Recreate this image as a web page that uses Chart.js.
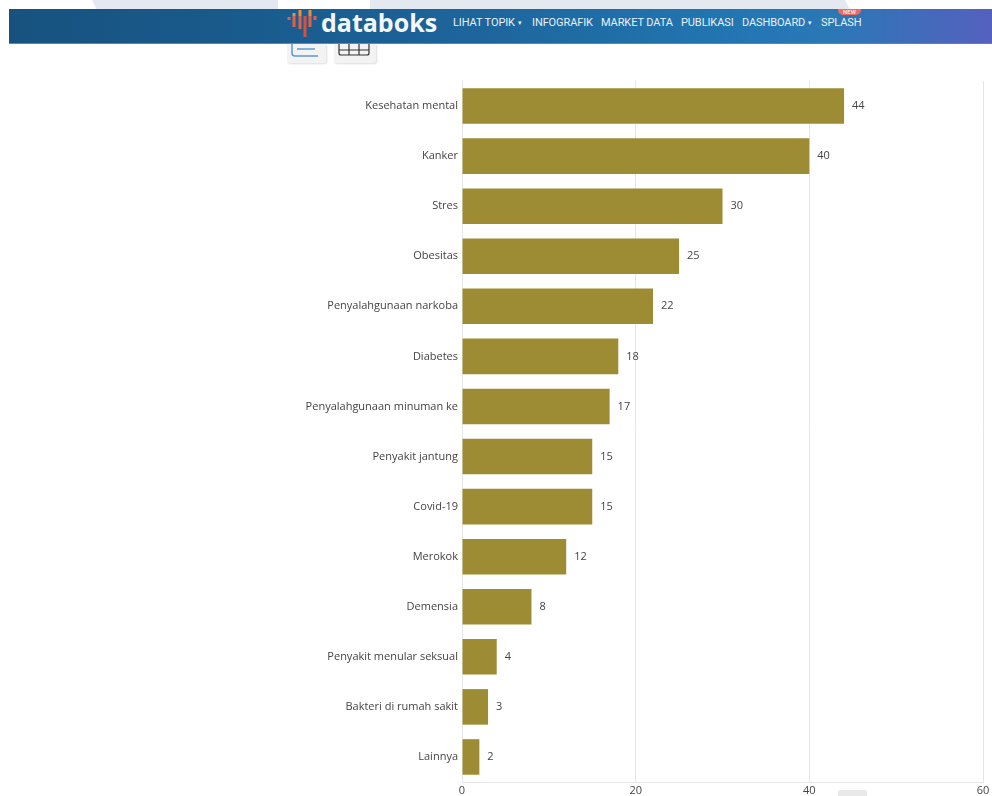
<!DOCTYPE html>
<html lang="id">
<head>
<meta charset="utf-8">
<title>Databoks</title>
<script src="https://cdn.jsdelivr.net/npm/chart.js@4"></script>
<style>
  html, body { margin: 0; padding: 0; background: #fff; overflow: hidden; }
  #page { position: relative; width: 992px; height: 796px; overflow: hidden; background: #fff; }
  #backdrop { position: absolute; left: 0; top: 0; }
  #navbar {
    position: absolute; left: 9px; top: 9px; width: 983px; height: 35px;
    background: linear-gradient(90deg, #17527f 0%, #1b6196 40%, #2377b3 76%, #2b78b5 84%, #5560bf 100%);
    border-bottom: 1px solid #4b8db8; box-sizing: border-box;
  }
  #brand {
    position: absolute; left: 321px; top: 4px; color: #f4f8fb;
    font: 700 25px/36px "Open Sans", sans-serif;
  }
  #logo { position: absolute; left: 286px; top: 9px; }
  .nav {
    position: absolute; top: 16px; color: #e8f1f7; white-space: nowrap;
    font: 400 11px/14px Roboto, sans-serif; letter-spacing: -0.1px;
  }
  .caret { font-size: 7px; vertical-align: 1px; }
  #badge {
    position: absolute; left: 838px; top: 9px; width: 23px; height: 6px;
    background: #ee6a5e; border-radius: 0 0 5px 5px; color: #fde; text-align: center;
    font: 700 6px/6px Roboto, sans-serif;
  }
  .tool {
    position: absolute; top: 44px; height: 19px; background: #f3f3f3;
    box-shadow: 1px 1px 2px #ddd; border-radius: 0 0 2px 2px;
  }
  #pager { position: absolute; left: 838px; top: 790px; width: 29px; height: 6px; background: #e9e9e9; border-radius: 2px 2px 0 0; }
  #chartBox { position: absolute; left: 0; top: 0; width: 992px; height: 796px; }
</style>
</head>
<body>
<div id="page">
  <svg id="backdrop" width="992" height="10">
    <polygon points="92,0 278,0 278,10 97,10" fill="#e4e8f0"/>
    <polygon points="370,0 845,0 850,10 370,10" fill="#e4e8f0"/>
  </svg>
  <div id="navbar"></div>
  <svg id="logo" width="34" height="30">
    <g stroke-width="3" fill="none">
      <line x1="3" y1="8" x2="3" y2="11" stroke="#e0604a"/>
      <line x1="8" y1="4" x2="8" y2="7" stroke="#e8903a"/>
      <line x1="8" y1="7" x2="8" y2="18" stroke="#e0604a"/>
      <line x1="14" y1="1" x2="14" y2="7" stroke="#e8903a"/>
      <line x1="14" y1="7" x2="14" y2="20" stroke="#e0604a"/>
      <line x1="19" y1="7" x2="19" y2="28" stroke="#d9503c"/>
      <line x1="24" y1="1" x2="24" y2="7" stroke="#e8903a"/>
      <line x1="24" y1="7" x2="24" y2="18" stroke="#e0604a"/>
      <line x1="29" y1="7" x2="29" y2="11" stroke="#e0604a"/>
    </g>
  </svg>
  <div id="brand">databoks</div>
  <div class="nav" style="left:453px">LIHAT TOPIK <span class="caret">▾</span></div>
  <div class="nav" style="left:532px">INFOGRAFIK</div>
  <div class="nav" style="left:601px">MARKET DATA</div>
  <div class="nav" style="left:681px">PUBLIKASI</div>
  <div class="nav" style="left:742px">DASHBOARD <span class="caret">▾</span></div>
  <div class="nav" style="left:821px">SPLASH</div>
  <div id="badge">NEW</div>
  <div class="tool" style="left:287px;width:39px">
    <svg width="39" height="19"><path d="M5 0V9Q5 12 8 12H31" fill="none" stroke="#5b9bd0" stroke-width="1.5"/><line x1="10" y1="5" x2="28" y2="5" stroke="#5b9bd0" stroke-width="1.5"/></svg>
  </div>
  <div class="tool" style="left:334px;width:42px">
    <svg width="42" height="19"><path d="M5 6H35M5 0V9Q5 11 7 11H33Q35 11 35 9V0M15 0V11M25 0V11" fill="none" stroke="#333" stroke-width="1.2"/></svg>
  </div>
  <div id="chartBox"><canvas id="chart"></canvas></div>
  <div id="pager"></div>
</div>

<script>
// Health concerns, in percent of respondents
const categories = [
  "Kesehatan mental", "Kanker", "Stres", "Obesitas", "Penyalahgunaan narkoba",
  "Diabetes", "Penyalahgunaan minuman ke", "Penyakit jantung", "Covid-19",
  "Merokok", "Demensia", "Penyakit menular seksual", "Bakteri di rumah sakit", "Lainnya"
];
const shares = [44, 40, 30, 25, 22, 18, 17, 15, 15, 12, 8, 4, 3, 2];
const axisTicks = [0, 20, 40, 60];

const barColor = "#9e8c35";
const textColor = "#444444";
const textFont = { family: "'Open Sans', sans-serif", size: 11 };

// Writes each bar's value just past its end
const valueLabels = {
  id: "valueLabels",
  afterDatasetsDraw(chart) {
    const { ctx } = chart;
    const bars = chart.getDatasetMeta(0).data;
    ctx.save();
    ctx.font = `${textFont.size}px ${textFont.family}`;
    ctx.fillStyle = textColor;
    ctx.textAlign = "left";
    ctx.textBaseline = "middle";
    bars.forEach((bar, i) => ctx.fillText(String(shares[i]), bar.x + 8, bar.y));
    ctx.restore();
  }
};

new Chart(document.getElementById("chart"), {
  type: "bar",
  data: {
    labels: categories,
    datasets: [{
      data: shares,
      backgroundColor: barColor,
      borderWidth: 0,
      categoryPercentage: 1,
      barPercentage: 0.71
    }]
  },
  options: {
    indexAxis: "y",
    responsive: true,
    maintainAspectRatio: false,
    animation: false,
    layout: { padding: { top: 81, right: 9, bottom: 0, left: 0 } },
    plugins: { legend: { display: false }, tooltip: { enabled: false } },
    scales: {
      x: {
        min: 0,
        max: 60,
        afterBuildTicks(scale) { scale.ticks = axisTicks.map(value => ({ value })); },
        grid: { color: "#e6e6e6", drawTicks: false },
        border: { color: "#e6e6e6" },
        ticks: { color: textColor, font: textFont, padding: 2, maxRotation: 0 },
        afterFit(scale) { scale.height = 14; }
      },
      y: {
        grid: { display: false, drawTicks: false },
        border: { color: "#e6e6e6" },
        ticks: { color: textColor, font: textFont, padding: 4, autoSkip: false },
        afterFit(scale) { scale.width = 462; }
      }
    }
  },
  plugins: [valueLabels]
});
</script>
</body>
</html>
